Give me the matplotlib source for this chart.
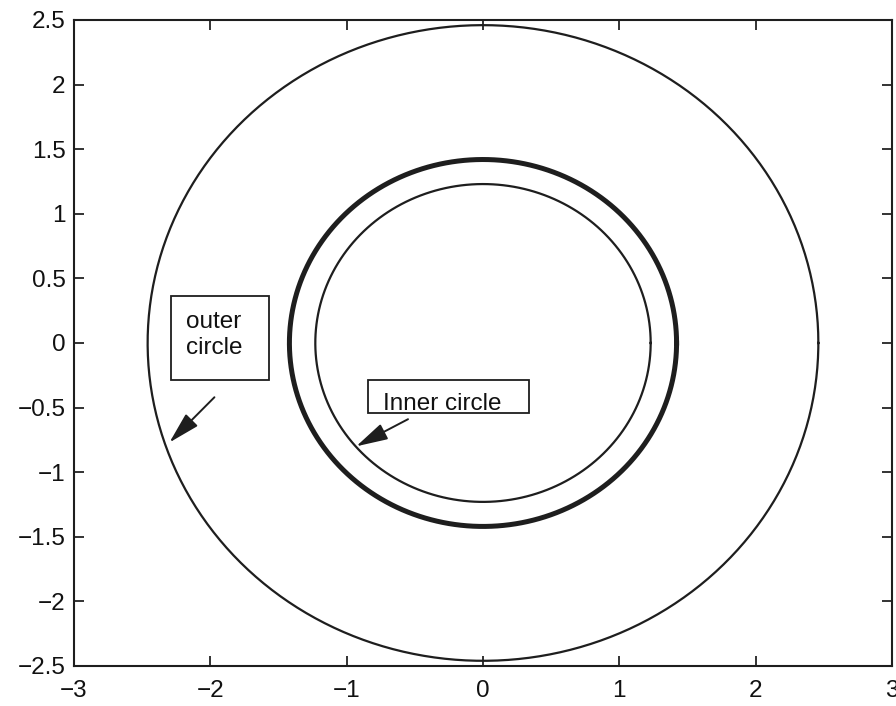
import numpy as np
import matplotlib.pyplot as plt
from matplotlib.patches import Rectangle

plt.rcParams['font.family'] = ['Liberation Sans', 'DejaVu Sans']

# circle radii
r_outer = 2.46
r_thick = 1.42
r_inner = 1.23

xticks = [-3, -2, -1, 0, 1, 2, 3]
yticks = [-2.5, -2, -1.5, -1, -0.5, 0, 0.5, 1, 1.5, 2, 2.5]

t = np.linspace(0, 2*np.pi, 400)

fig = plt.figure(figsize=(8.96, 7.06), dpi=100)
ax = fig.add_axes([0.0826, 0.0567, 0.9129, 0.915])

lc = '#1e1e1e'
ax.plot(r_outer*np.cos(t), r_outer*np.sin(t), color=lc, lw=1.6)
ax.plot(r_thick*np.cos(t), r_thick*np.sin(t), color=lc, lw=3.6)
ax.plot(r_inner*np.cos(t), r_inner*np.sin(t), color=lc, lw=1.6)

# label boxes
ax.add_patch(Rectangle((-2.29, -0.29), 0.72, 0.65, fill=False, ec=lc, lw=1.3))
ax.text(-2.18, 0.06, 'outer\ncircle', fontsize=17.5, va='center', ha='left',
        linespacing=1.25, color='#111')
ax.add_patch(Rectangle((-0.84, -0.54), 1.18, 0.25, fill=False, ec=lc, lw=1.3))
ax.text(-0.73, -0.52, 'Inner circle', fontsize=17.5, va='baseline', ha='left',
        color='#111')

arrow = dict(arrowstyle='-|>,head_length=0.75,head_width=0.2', color=lc,
             lw=1.4, mutation_scale=26, shrinkA=0, shrinkB=0)
ax.annotate('', xy=(-2.30, -0.77), xytext=(-1.97, -0.42), arrowprops=arrow)
ax.annotate('', xy=(-0.93, -0.80), xytext=(-0.55, -0.59), arrowprops=arrow)

ax.set_xlim(-3, 3)
ax.set_ylim(-2.5, 2.5)
ax.set_xticks(xticks)
ax.set_yticks(yticks)
ax.set_xticklabels(['\u22123', '\u22122', '\u22121', '0', '1', '2', '3'])
ax.set_yticklabels(['\u22122.5', '\u22122', '\u22121.5', '\u22121', '\u22120.5',
                    '0', '0.5', '1', '1.5', '2', '2.5'])
ax.tick_params(direction='in', length=7, width=1.2, top=True, right=True,
               labelsize=17.5, colors='#111')
ax.tick_params(axis='x', pad=10)
ax.tick_params(axis='y', pad=6)
for s in ax.spines.values():
    s.set_linewidth(1.5)
    s.set_color(lc)

fig.savefig('out.png', dpi=100)
